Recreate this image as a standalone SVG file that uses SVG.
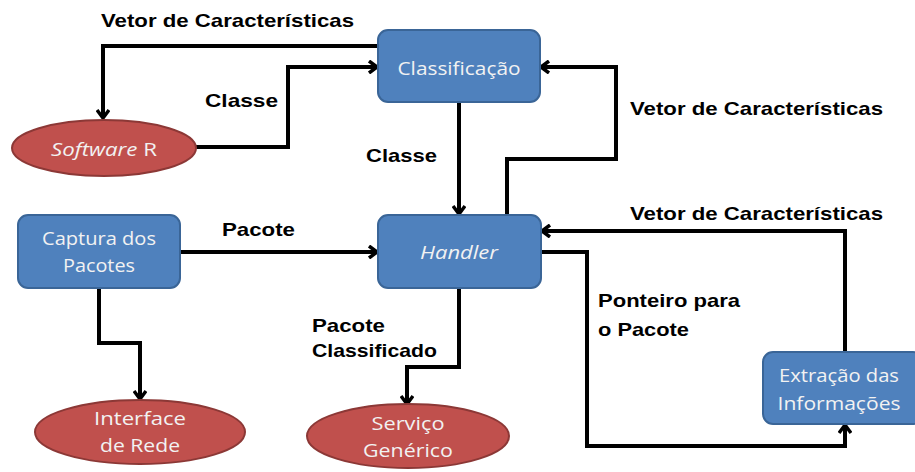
<svg xmlns="http://www.w3.org/2000/svg" width="915" height="472" viewBox="0 0 915 472">
<style>
.box{fill:#4f81bd;stroke:#3a6597;stroke-width:2}
.ell{fill:#c0504d;stroke:#8c3836;stroke-width:2}
.nt{font-family:"Open Sans","Noto Sans",sans-serif;font-size:19px;fill:#f2f2f2;text-anchor:middle}
.lb{font-family:"Liberation Sans",Arial,sans-serif;font-weight:bold;font-size:19px;fill:#000}
.c{fill:none;stroke:#000;stroke-width:4;marker-end:url(#ah)}
</style>
<defs>
<marker id="ah" viewBox="0 0 12 14" refX="10" refY="7" markerWidth="12" markerHeight="14" markerUnits="userSpaceOnUse" orient="auto">
<path d="M2,1 L10,7 L2,13" fill="none" stroke="#000" stroke-width="3.5"/>
</marker>
</defs>
<rect width="915" height="472" fill="#fff"/>
<g id="connectors">
<path class="c" d="M378,46 H103 V118"/>
<path class="c" d="M196,147 H288 V67 H377"/>
<path class="c" d="M459,102 V214"/>
<path class="c" d="M507,215 V159 H616 V67 H541"/>
<path class="c" d="M845,352 V231 H542"/>
<path class="c" d="M541,252 H587 V446 H845 V425"/>
<path class="c" d="M180,252 H377"/>
<path class="c" d="M99,288 V343 H140 V399"/>
<path class="c" d="M459,288 V367 H407 V404"/>
</g>
<g id="labels">
<text class="lb" x="101" y="27" textLength="253" lengthAdjust="spacingAndGlyphs">Vetor de Características</text>
<text class="lb" x="205" y="107" textLength="73" lengthAdjust="spacingAndGlyphs">Classe</text>
<text class="lb" x="366" y="162" textLength="71" lengthAdjust="spacingAndGlyphs">Classe</text>
<text class="lb" x="630" y="115" textLength="253" lengthAdjust="spacingAndGlyphs">Vetor de Características</text>
<text class="lb" x="630" y="220" textLength="253" lengthAdjust="spacingAndGlyphs">Vetor de Características</text>
<text class="lb" x="222" y="236" textLength="73" lengthAdjust="spacingAndGlyphs">Pacote</text>
<text class="lb" x="312" y="332" textLength="73" lengthAdjust="spacingAndGlyphs">Pacote</text>
<text class="lb" x="312" y="357" textLength="125" lengthAdjust="spacingAndGlyphs">Classificado</text>
<text class="lb" x="598" y="307" textLength="142" lengthAdjust="spacingAndGlyphs">Ponteiro para</text>
<text class="lb" x="598" y="336" textLength="91" lengthAdjust="spacingAndGlyphs">o Pacote</text>
</g>
<g id="classificacao">
<rect class="box" x="378" y="30" width="162" height="72" rx="10"/>
<text class="nt" x="459" y="75" textLength="123" lengthAdjust="spacingAndGlyphs">Classificação</text>
</g>
<g id="handler">
<rect class="box" x="378" y="215" width="163" height="73" rx="10"/>
<text class="nt" x="459" y="259" font-style="italic" textLength="78" lengthAdjust="spacingAndGlyphs">Handler</text>
</g>
<g id="captura">
<rect class="box" x="18" y="215" width="162" height="73" rx="10"/>
<text class="nt" x="99" y="245" textLength="114" lengthAdjust="spacingAndGlyphs">Captura dos</text>
<text class="nt" x="99" y="272" textLength="72" lengthAdjust="spacingAndGlyphs">Pacotes</text>
</g>
<g id="extracao">
<rect class="box" x="763" y="352" width="160" height="72" rx="10"/>
<text class="nt" x="839" y="382" textLength="120" lengthAdjust="spacingAndGlyphs">Extração das</text>
<text class="nt" x="839" y="410" textLength="123" lengthAdjust="spacingAndGlyphs">Informações</text>
</g>
<g id="software-r">
<ellipse class="ell" cx="104" cy="148" rx="92" ry="28"/>
<text class="nt" x="104" y="156" textLength="106" lengthAdjust="spacingAndGlyphs"><tspan font-style="italic">Software</tspan> R</text>
</g>
<g id="interface">
<ellipse class="ell" cx="140" cy="432" rx="105" ry="32"/>
<text class="nt" x="140" y="425" textLength="92" lengthAdjust="spacingAndGlyphs">Interface</text>
<text class="nt" x="140" y="452" textLength="80" lengthAdjust="spacingAndGlyphs">de Rede</text>
</g>
<g id="servico">
<ellipse class="ell" cx="408" cy="436" rx="101" ry="32"/>
<text class="nt" x="408" y="430" textLength="73" lengthAdjust="spacingAndGlyphs">Serviço</text>
<text class="nt" x="408" y="457" textLength="90" lengthAdjust="spacingAndGlyphs">Genérico</text>
</g>
</svg>
